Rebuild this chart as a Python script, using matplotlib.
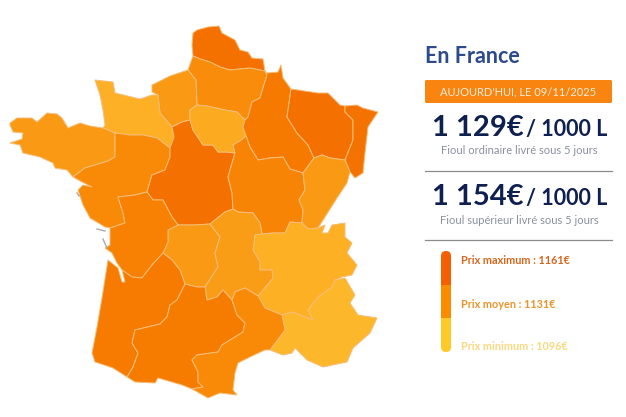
import matplotlib

matplotlib.use("Agg")
import matplotlib.pyplot as plt
from matplotlib.patches import FancyBboxPatch, Polygon, Rectangle

plt.rcParams["font.family"] = ["Lato", "DejaVu Sans"]

# borders between regions in pixels, shared so neighbours meet
nord_picardie = [(193, 56), (200, 59), (210, 62), (220, 67), (230, 70), (250, 68), (265, 71)]
picardie_hn = [(188, 70), (196, 80), (197, 105)]
picardie_idf = [(197, 105), (207, 106), (225, 110), (237, 112), (245, 120)]
picardie_champ = [(245, 120), (248, 117), (252, 102), (260, 98), (263, 88), (267, 75), (265, 71)]
hn_bn = [(158, 95), (160, 113), (172, 127)]
hn_centre = [(172, 127), (182, 122), (190, 120)]
hn_idf = [(190, 120), (190, 110), (197, 105)]
bn_bret = [(103, 128), (115, 133)]
bn_pl = [(115, 133), (130, 135), (143, 135), (157, 138), (170, 148)]
bn_centre = [(170, 148), (174, 137), (172, 127)]
bret_pl = [(115, 133), (115, 157), (108, 161), (85, 168), (73, 177)]
pl_centre = [(170, 148), (170, 157), (165, 170), (152, 175), (147, 192)]
pl_poitou = [(147, 192), (135, 195), (118, 197), (123, 213), (125, 223), (110, 228)]
centre_poitou = [(147, 192), (153, 200), (163, 200), (172, 217), (178, 225)]
centre_lim = [(178, 225), (195, 225), (210, 224)]
centre_auv = [(210, 224), (225, 212), (233, 209)]
centre_bourg = [(233, 209), (232, 193), (228, 177), (232, 163), (235, 153)]
centre_idf = [(235, 153), (227, 152), (218, 152), (213, 145), (203, 145), (193, 130), (190, 120)]
idf_bourg = [(235, 153), (233, 145), (240, 141), (246, 136)]
idf_champ = [(245, 120), (243, 127), (246, 136)]
champ_lorr = [(291, 89), (287, 117), (297, 133), (308, 145), (314, 158)]
champ_fc = [(314, 158), (303, 173)]
champ_bourg = [(246, 136), (250, 147), (258, 160), (270, 158), (283, 157), (290, 169), (303, 173)]
lorr_alsace = [(345, 106), (345, 112), (353, 120), (353, 140), (345, 160)]
lorr_fc = [(345, 160), (330, 158), (322, 155), (314, 158)]
alsace_fc = [(345, 160), (350, 172)]
fc_bourg = [(302, 223), (303, 210), (299, 200), (305, 190), (303, 173)]
fc_ra = [(318, 228), (308, 229), (302, 223)]
bourg_ra = [(302, 223), (290, 222), (285, 233), (273, 233), (262, 234)]
bourg_auv = [(262, 234), (260, 223), (253, 213), (238, 212), (233, 209)]
ra_paca = [(335, 280), (332, 287), (318, 297), (308, 310), (313, 320), (292, 312), (282, 315)]
ra_lang = [(282, 315), (265, 308), (258, 296)]
ra_auv = [(258, 296), (273, 278), (272, 270), (260, 270), (260, 262), (253, 250), (255, 235), (262, 234)]
paca_lang = [(270, 350), (285, 330), (282, 315)]
auv_lim = [(210, 224), (220, 237), (215, 253), (218, 267), (205, 287)]
auv_lang = [(258, 296), (245, 288), (235, 292), (232, 300)]
auv_midi = [(232, 300), (223, 290), (217, 297), (207, 300), (205, 287)]
lim_midi = [(205, 287), (197, 287), (185, 284)]
lim_aqui = [(185, 284), (180, 270), (172, 260), (163, 253)]
lim_poitou = [(163, 253), (168, 242), (168, 230), (178, 225)]
poitou_aqui = [(163, 253), (152, 265), (142, 278), (132, 277), (122, 270)]
aqui_midi = [(185, 284), (177, 300), (170, 305), (167, 317), (160, 324), (135, 330), (132, 343), (138, 353),
             (133, 367), (127, 377)]
midi_lang = [(232, 300), (237, 315), (245, 323), (243, 332), (222, 345), (218, 352), (197, 355), (192, 360),
             (198, 372), (198, 382), (203, 387), (192, 389)]

# coast and land frontier pieces
nord_outer = [(193, 56), (192, 45), (193, 33), (197, 30), (208, 27), (219, 26), (222, 33), (235, 40), (240, 50),
              (248, 52), (252, 58), (263, 59), (265, 71)]
hn_coast = [(188, 70), (170, 76), (152, 85), (152, 92), (158, 95)]
bn_coast = [(158, 95), (152, 95), (140, 99), (115, 93), (113, 82), (95, 80), (100, 95), (103, 110), (105, 125),
            (103, 128)]
bret_north = [(10, 123), (17, 118), (32, 118), (37, 122), (47, 113), (57, 114), (62, 118), (68, 128), (80, 123),
              (90, 126), (103, 128)]
bret_south = [(73, 177), (67, 170), (55, 168), (53, 163), (40, 157), (23, 153), (20, 145), (10, 143), (22, 139),
              (23, 133), (13, 132), (10, 125)]
pl_coast = [(110, 228), (105, 227), (90, 218), (83, 205), (78, 190), (83, 185), (92, 187), (82, 182), (73, 177)]
champ_top = [(265, 71), (267, 73), (278, 72), (281, 65), (283, 78), (291, 89)]
lorr_top = [(291, 89), (298, 90), (318, 93), (328, 93), (340, 105), (345, 106)]
alsace_east = [(345, 106), (357, 105), (363, 108), (378, 112), (368, 127), (365, 153), (363, 173), (355, 178),
               (350, 172)]
fc_east = [(350, 172), (347, 183), (337, 198), (325, 217), (318, 228)]
ra_east = [(318, 228), (325, 225), (322, 233), (328, 233), (332, 225), (345, 223), (345, 237), (352, 243),
           (347, 253), (357, 265), (352, 275), (342, 277), (335, 280)]
paca_coast = [(335, 280), (345, 278), (355, 295), (350, 303), (358, 315), (377, 318), (370, 333), (353, 348),
              (347, 362), (323, 367), (307, 360), (295, 348), (292, 353), (283, 355), (270, 350)]
poitou_coast = [(122, 270), (117, 263), (112, 253), (105, 248), (110, 245), (110, 233), (110, 228)]
aqui_north = [(108, 260), (118, 268), (122, 282), (125, 282), (122, 270)]
aqui_coast = [(127, 377), (113, 368), (95, 362), (92, 353), (97, 327), (102, 298), (108, 260)]
pyrenees = [(192, 389), (182, 385), (158, 378), (155, 383), (135, 382), (127, 377)]
lang_coast = [(270, 350), (265, 350), (250, 357), (238, 363), (235, 373), (233, 390), (237, 395), (220, 393),
              (208, 398), (192, 389)]

ile_re = [(97, 229), (105, 231)]
ile_oleron = [(103, 239), (107, 248)]
ile_yeu = [(77, 193), (79, 196)]


def ring(*chains):
    points = []
    for chain in chains:
        points.extend(chain)
    return points


def rev(chain):
    return chain[::-1]


regions = [
    (ring(nord_outer, rev(nord_picardie)), "#f47100"),
    (ring(nord_picardie, rev(picardie_champ), rev(picardie_idf), rev(picardie_hn)), "#f98c0a"),
    (ring(hn_coast, hn_bn, hn_centre, hn_idf, rev(picardie_hn)), "#fa9a14"),
    (ring(bn_coast, bn_bret, bn_pl, bn_centre, rev(hn_bn)), "#fdb026"),
    (ring(bret_north, bn_bret, bret_pl, bret_south), "#fa9a14"),
    (ring(bn_pl, pl_centre, pl_poitou, pl_coast, rev(bret_pl)), "#f98a08"),
    (ring(rev(hn_centre), rev(bn_centre), pl_centre, centre_poitou, centre_lim, centre_auv, centre_bourg, centre_idf),
     "#f47000"),
    (ring(hn_idf, picardie_idf, idf_champ, rev(idf_bourg), centre_idf), "#fcaa20"),
    (ring(champ_top, champ_lorr, champ_fc, rev(champ_bourg), rev(idf_champ), picardie_champ), "#f67a00"),
    (ring(lorr_top, lorr_alsace, lorr_fc, rev(champ_lorr)), "#f47000"),
    (ring(alsace_east, rev(alsace_fc), rev(lorr_alsace)), "#f47300"),
    (ring(idf_bourg, champ_bourg, rev(fc_bourg), bourg_ra, bourg_auv, centre_bourg), "#f88406"),
    (ring(rev(lorr_fc), alsace_fc, fc_east, fc_ra, fc_bourg, rev(champ_fc)), "#fa9a14"),
    (ring(rev(bourg_ra), rev(fc_ra), ra_east, ra_paca, ra_lang, ra_auv), "#fdb024"),
    (ring(rev(ra_paca), paca_coast, paca_lang), "#fdb72b"),
    (ring(centre_lim, auv_lim, lim_midi, lim_aqui, lim_poitou), "#fa9a14"),
    (ring(centre_auv, rev(bourg_auv), rev(ra_auv), auv_lang, auv_midi, rev(auv_lim)), "#fa9d16"),
    (ring(centre_poitou, rev(lim_poitou), poitou_aqui, poitou_coast, rev(pl_poitou)), "#f88002"),
    (ring(aqui_north, rev(poitou_aqui), rev(lim_aqui), aqui_midi, aqui_coast), "#f67b00"),
    (ring(rev(lim_midi), rev(auv_midi), midi_lang, pyrenees, rev(aqui_midi)), "#f67c00"),
    (ring(rev(auv_lang), rev(ra_lang), rev(paca_lang), lang_coast, rev(midi_lang)), "#f98a08"),
]

title = "En France"
banner = "AUJOURD'HUI, LE 09/11/2025"
prices = ["1 129€", "1 154€"]
unit = "/ 1000 L"
subtitles = ["Fioul ordinaire livré sous 5 jours", "Fioul supérieur livré sous 5 jours"]
legend_labels = ["Prix maximum : 1161€", "Prix moyen : 1131€", "Prix minimum : 1096€"]
legend_bar_colors = ["#f45f00", "#fb8c00", "#ffca28"]
legend_text_colors = ["#d8651c", "#e8942a", "#f8d980"]

fig = plt.figure(figsize=(6.26, 4.17), dpi=100)
ax = fig.add_axes([0, 0, 1, 1])
ax.set_xlim(0, 626)
ax.set_ylim(417, 0)
ax.axis("off")

for outline, color in regions:
    ax.add_patch(Polygon(outline, closed=True, facecolor=color, edgecolor="#f4bd78", linewidth=0.7, joinstyle="round"))

for island in [ile_re, ile_oleron, ile_yeu]:
    xs, ys = zip(*island)
    ax.plot(xs, ys, color="#a8a8b0", linewidth=1.0)

ax.text(425, 63, title, fontsize=15.5, fontweight="bold", color="#2c4a8c", va="baseline")

ax.add_patch(FancyBboxPatch((425, 80), 187, 23, boxstyle="round,pad=0,rounding_size=1.5", facecolor="#f98510", edgecolor="none"))
ax.text(518.5, 92, banner, fontsize=8, color="#fdeedd", ha="center", va="center")

for price, sub, base_y, sub_y in zip(prices, subtitles, [136, 205], [151, 220]):
    ax.text(432, base_y, price, fontsize=21, fontweight="bold", color="#0e2050", va="baseline")
    ax.text(526, base_y, unit, fontsize=15.5, fontweight="bold", color="#0e2050", va="baseline")
    ax.text(519, sub_y, sub, fontsize=8, color="#8a90a0", ha="center", va="center")

ax.plot([425, 612], [171, 171], color="#8c8c8c", linewidth=0.9)
ax.plot([425, 612], [240, 240], color="#8c8c8c", linewidth=0.9)

# legend bar: three flat bands clipped to a rounded box
clip_box = FancyBboxPatch((441, 251), 10, 101, boxstyle="round,pad=0,rounding_size=5", facecolor="none", edgecolor="none")
ax.add_patch(clip_box)
for i, color in enumerate(legend_bar_colors):
    band = Rectangle((441, 251 + i * 33.67), 10, 33.67, facecolor=color, edgecolor="none")
    ax.add_patch(band)
    band.set_clip_path(clip_box)

for label, color, y in zip(legend_labels, legend_text_colors, [261, 305, 347]):
    ax.text(461, y, label, fontsize=7.8, fontweight="bold", color=color, va="center")

fig.savefig("out.png", dpi=100)
